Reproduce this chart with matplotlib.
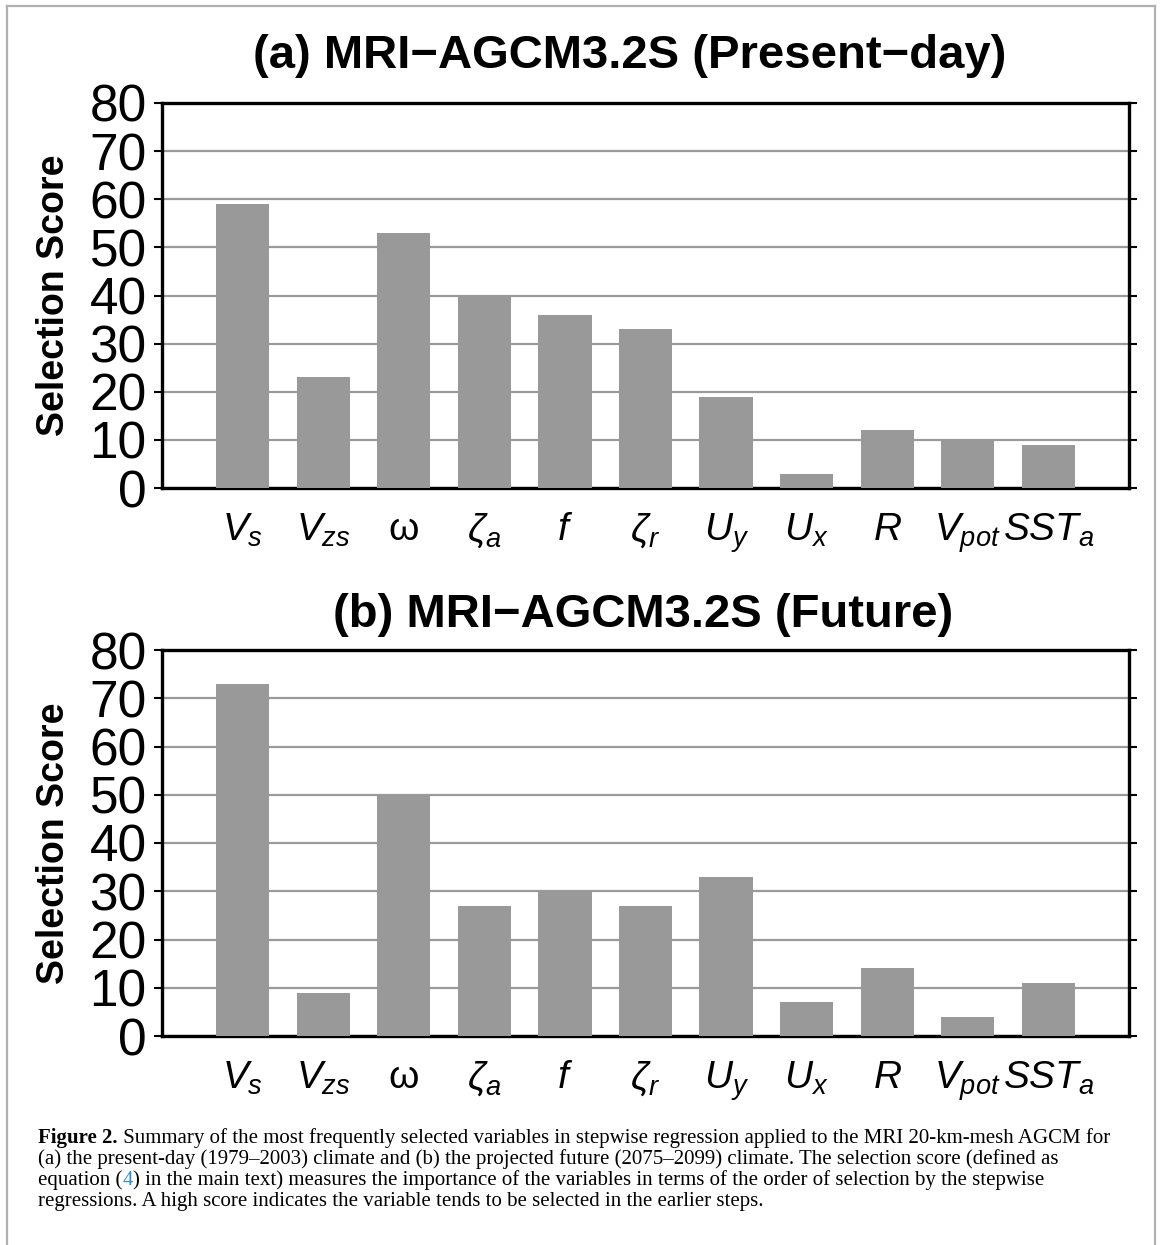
import numpy as np
import matplotlib
matplotlib.use("Agg")
import matplotlib.pyplot as plt
from matplotlib.lines import Line2D

plt.rcParams['font.family'] = ['Liberation Sans', 'DejaVu Sans']
plt.rcParams['mathtext.fontset'] = 'custom'
plt.rcParams['mathtext.rm'] = 'Liberation Sans'
plt.rcParams['mathtext.it'] = 'Liberation Sans:italic'

# Zmienne objaśniające (etykiety osi x)
variables = [r'$V_s$', r'$V_{zs}$', r'$\mathrm{\omega}$', r'$\zeta_a$', r'$f$',
             r'$\zeta_r$', r'$U_y$', r'$U_x$', r'$R$', r'$V_{pot}$', r'$SST_a$']
# Selection score - present-day (a) i future (b)
score_present = [59, 23, 53, 40, 36, 33, 19, 3, 12, 10, 9]
score_future = [73, 9, 50, 27, 30, 27, 33, 7, 14, 4, 11]

titles = ['(a) MRI\u2212AGCM3.2S (Present\u2212day)', '(b) MRI\u2212AGCM3.2S (Future)']
yticks = np.arange(0, 81, 10)

W, H = 1167, 1245
fig = plt.figure(figsize=(W / 100, H / 100), dpi=100)

# ramka wokół rysunku (lewa, górna, prawa)
frame_col = '#b0b0b0'
for xs, ys in [([7, 7], [0, 6]), ([7, 1155], [6, 6]), ([1155, 1155], [6, 0])]:
    xs_f = [x / W for x in xs]
    ys_f = [1 - y / H if y else 0 for y in ys]
    fig.add_artist(Line2D(xs_f, ys_f, color=frame_col, lw=1.6, transform=fig.transFigure))

# (dane, ramka osi w pikselach, linia bazowa tytułu, środek tytułu)
panels = [
    (score_present, (162, 103, 1129, 488), 68, 630),
    (score_future, (162, 650, 1129, 1036), 627, 643),
]


def plot_panel(scores, box, title, title_base, title_x):
    x0, y0, x1, y1 = box
    ax = fig.add_axes([x0 / W, 1 - y1 / H, (x1 - x0) / W, (y1 - y0) / H])
    pos = np.arange(1, len(scores) + 1)
    ax.bar(pos, scores, width=0.66, color='#999999', zorder=3)
    ax.set_xlim(0, len(scores) + 1)
    ax.set_ylim(0, 80)
    ax.set_yticks(yticks)
    ax.set_yticklabels([str(v) for v in yticks], fontsize=37)
    ax.set_xticks(pos)
    ax.set_xticklabels(variables, fontsize=28)
    ax.tick_params(axis='x', length=0, pad=17)
    ax.tick_params(axis='y', direction='out', length=6, width=1.5, pad=5)
    ax.tick_params(axis='y', which='both', right=True)
    ax.yaxis.grid(True, color='#9a9a9a', lw=1.6, zorder=0)
    ax.set_axisbelow(True)
    for s in ax.spines.values():
        s.set_linewidth(2.4)
        s.set_color('black')
    ax.spines['bottom'].set_zorder(2.5)
    fig.text(title_x / W, 1 - title_base / H, title, ha='center',
             va='baseline', fontsize=34, weight='bold')
    fig.text(54 / W, 1 - (y0 + y1) / 2 / H, 'Selection Score', rotation=90,
             ha='center', va='center', fontsize=27, weight='bold')
    return ax


for (scores, box, tb, tx), title in zip(panels, titles):
    plot_panel(scores, box, title, tb, tx)

# podpis rysunku
cap_fs = 15.0
serif = ['Liberation Serif', 'DejaVu Serif']
blue = '#2f8dc9'
lines = [
    [('Figure 2.', 'bold', 'black'),
     (' Summary of the most frequently selected variables in stepwise regression applied to the MRI 20-km-mesh AGCM for', 'normal', 'black')],
    [('(a) the present-day (1979\u20132003) climate and (b) the projected future (2075\u20132099) climate. The selection score (defined as', 'normal', 'black')],
    [('equation (', 'normal', 'black'), ('4', 'normal', blue),
     (') in the main text) measures the importance of the variables in terms of the order of selection by the stepwise', 'normal', 'black')],
    [('regressions. A high score indicates the variable tends to be selected in the earlier steps.', 'normal', 'black')],
]
renderer = fig.canvas.get_renderer()
base_y = 1143
for i, parts in enumerate(lines):
    xpix = 38
    for txt, wt, col in parts:
        t = fig.text(xpix / W, 1 - (base_y + i * 21) / H, txt, fontsize=cap_fs,
                     family=serif, weight=wt, color=col, va='baseline', ha='left')
        xpix += t.get_window_extent(renderer).width

fig.savefig('out.png', dpi=100)
